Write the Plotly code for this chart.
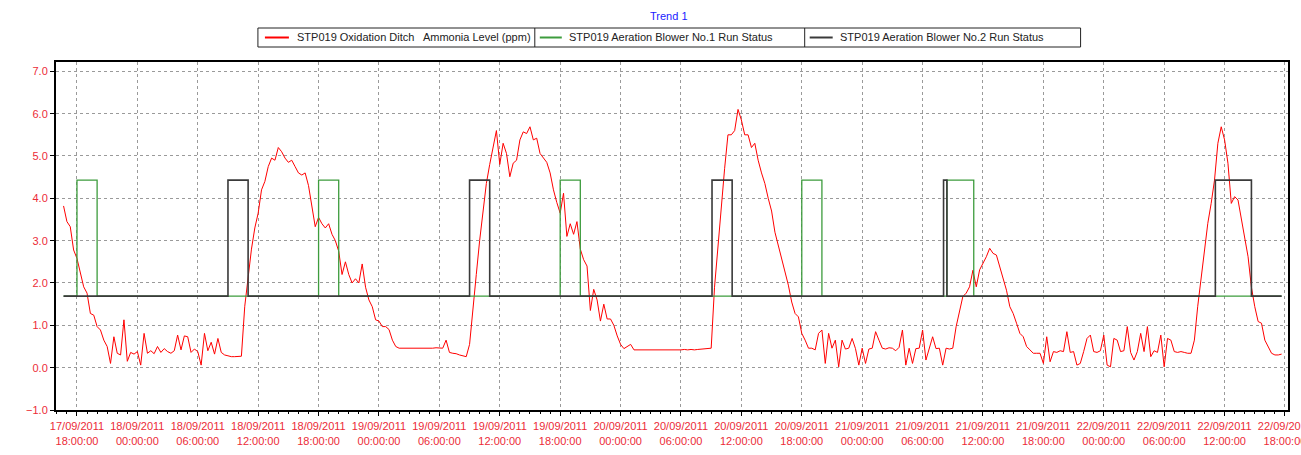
import pandas as pd
import plotly.graph_objects as go

# ---------------- data ----------------
series_start = "2011-09-17 16:40"
series_step = "20min"

# Ammonia level (ppm), 20-minute readings from 17/09/2011 16:40
ammonia_ppm = [
    3.82, 3.45, 3.33, 2.78,            # 17/09 16:40-17:40
    2.58, 2.23, 1.91,                  # 17/09 18h
    1.76, 1.28, 1.24,                  # 19h
    0.97, 0.89, 0.65,                  # 20h
    0.50, 0.10, 0.73,                  # 21h
    0.34, 0.30, 1.13,                  # 22h
    0.15, 0.36, 0.32,                  # 23h
    0.38, 0.06, 0.81,                  # 18/09 00h
    0.34, 0.40, 0.33,                  # 01h
    0.50, 0.36, 0.45,                  # 02h
    0.38, 0.34, 0.40,                  # 03h
    0.77, 0.42, 0.75,                  # 04h
    0.73, 0.36, 0.44,                  # 05h
    0.38, 0.06, 0.81,                  # 06h
    0.40, 0.60, 0.32,                  # 07h
    0.69, 0.36, 0.30,                  # 08h
    0.28, 0.26, 0.26,                  # 09h
    0.26, 0.27, 1.45,                  # 10h
    2.15, 2.80, 3.30,                  # 11h
    3.65, 4.20, 4.40,                  # 12h
    4.75, 4.95, 4.90,                  # 13h
    5.20, 5.10, 4.95,                  # 14h
    4.85, 4.90, 4.75,                  # 15h
    4.60, 4.55, 4.60,                  # 16h
    4.30, 3.80, 3.33,                  # 17h
    3.55, 3.40, 3.30,                  # 18h
    3.40, 3.15, 3.00,                  # 19h
    2.75, 2.20, 2.50,                  # 20h
    2.20, 2.00, 2.10,                  # 21h
    2.00, 2.45, 1.90,                  # 22h
    1.60, 1.44, 1.13,                  # 23h
    1.10, 0.97, 0.97,                  # 19/09 00h
    0.90, 0.65, 0.50,                  # 01h
    0.46, 0.46, 0.46,                  # 02h
    0.45, 0.46, 0.46,                  # 03h
    0.46, 0.45, 0.46,                  # 04h
    0.46, 0.46, 0.47,                  # 05h
    0.46, 0.46, 0.65,                  # 06h
    0.36, 0.34, 0.33,                  # 07h
    0.30, 0.28, 0.26,                  # 08h
    0.55, 1.30, 2.20,                  # 09h
    3.00, 3.70, 4.35,                  # 10h
    4.80, 5.20, 5.60,                  # 11h
    4.80, 5.30, 5.06,                  # 12h
    4.51, 4.83, 4.90,                  # 13h
    5.38, 5.57, 5.53,                  # 14h
    5.69, 5.38, 5.42,                  # 15h
    5.06, 4.95, 4.85,                  # 16h
    4.60, 4.20, 3.90,                  # 17h
    3.65, 4.12, 3.10,                  # 18h
    3.40, 3.15, 3.45,                  # 19h
    2.80, 2.55, 2.40,                  # 20h
    1.35, 1.85, 1.60,                  # 21h
    1.10, 1.50, 1.15,                  # 22h
    1.15, 1.00, 0.75,                  # 23h
    0.55, 0.45, 0.50,                  # 20/09 00h
    0.55, 0.42, 0.42,                  # 01h
    0.42, 0.41, 0.42,                  # 02h
    0.42, 0.42, 0.41,                  # 03h
    0.42, 0.42, 0.42,                  # 04h
    0.41, 0.42, 0.42,                  # 05h
    0.42, 0.43, 0.42,                  # 06h
    0.43, 0.42, 0.43,                  # 07h
    0.44, 0.45, 0.46,                  # 08h
    0.46, 1.90, 2.90,                  # 09h
    3.90, 4.70, 5.50,                  # 10h
    5.50, 5.60, 6.10,                  # 11h
    5.85, 5.50, 5.50,                  # 12h
    5.20, 5.30, 4.90,                  # 13h
    4.60, 4.35, 4.00,                  # 14h
    3.70, 3.20, 2.90,                  # 15h
    2.55, 2.30, 1.95,                  # 16h
    1.55, 1.28, 1.20,                  # 17h
    0.81, 0.65, 0.46,                  # 18h
    0.46, 0.42, 0.81,                  # 19h
    0.89, 0.10, 0.81,                  # 20h
    0.46, 0.65, 0.02,                  # 21h
    0.65, 0.44, 0.46,                  # 22h
    0.69, 0.45, 0.06,                  # 23h
    0.46, 0.10, 0.44,                  # 21/09 00h
    0.46, 0.85, 0.65,                  # 01h
    0.46, 0.44, 0.47,                  # 02h
    0.46, 0.40, 0.48,                  # 03h
    0.89, 0.06, 0.46,                  # 04h
    0.10, 0.45, 0.46,                  # 05h
    0.89, 0.18, 0.46,                  # 06h
    0.73, 0.45, 0.46,                  # 07h
    0.06, 0.46, 0.44,                  # 08h
    0.46, 0.97, 1.36,                  # 09h
    1.68, 1.76, 1.91,                  # 10h
    2.30, 1.91, 2.31,                  # 11h
    2.46, 2.62, 2.82,                  # 12h
    2.70, 2.66, 2.39,                  # 13h
    2.07, 1.83, 1.44,                  # 14h
    1.28, 1.05, 0.81,                  # 15h
    0.73, 0.50, 0.42,                  # 16h
    0.34, 0.34, 0.34,                  # 17h
    0.10, 0.73, 0.14,                  # 18h
    0.38, 0.36, 0.40,                  # 19h
    0.38, 0.85, 0.36,                  # 20h
    0.38, 0.06, 0.10,                  # 21h
    0.38, 0.69, 0.77,                  # 22h
    0.38, 0.36, 0.40,                  # 23h
    0.77, 0.06, 0.02,                  # 22/09 00h
    0.69, 0.65, 0.38,                  # 01h
    0.40, 0.97, 0.36,                  # 02h
    0.18, 0.38, 0.81,                  # 03h
    0.38, 0.97, 0.26,                  # 04h
    0.40, 0.36, 0.77,                  # 05h
    0.02, 0.69, 0.65,                  # 06h
    0.38, 0.36, 0.38,                  # 07h
    0.36, 0.34, 0.34,                  # 08h
    0.65, 1.45, 2.15,                  # 09h
    2.78, 3.41, 3.88,                  # 10h
    4.43, 5.30, 5.69,                  # 11h
    5.38, 4.83, 3.88,                  # 12h
    4.04, 3.96, 3.49,                  # 13h
    3.09, 2.62, 1.90,                  # 14h
    1.44, 1.09, 1.05,                  # 15h
    0.65, 0.50, 0.34,                  # 16h
    0.30, 0.30, 0.32,                  # 17h
]

blower1_times = ["2011-09-17 16:40", "2011-09-17 18:00", "2011-09-17 20:00",
                 "2011-09-18 18:00", "2011-09-18 20:00", "2011-09-19 18:00",
                 "2011-09-19 20:00", "2011-09-20 18:00", "2011-09-20 20:00",
                 "2011-09-21 08:25", "2011-09-21 11:05", "2011-09-22 17:40"]
blower1_status = [0, 1, 0, 1, 0, 1, 0, 1, 0, 1, 0, 0]

blower2_times = ["2011-09-17 16:40", "2011-09-18 09:00", "2011-09-18 11:00",
                 "2011-09-19 09:00", "2011-09-19 11:00", "2011-09-20 09:05",
                 "2011-09-20 11:05", "2011-09-21 08:05", "2011-09-21 08:25",
                 "2011-09-22 11:05", "2011-09-22 14:40", "2011-09-22 17:40"]
blower2_status = [0, 1, 0, 1, 0, 1, 0, 1, 0, 1, 0, 0]

series_names = ["STP019 Oxidation Ditch \u00a0 Ammonia Level (ppm)",
                "STP019 Aeration Blower No.1 Run Status",
                "STP019 Aeration Blower No.2 Run Status"]
chart_title = "Trend 1"
y_ticks = [-1.0, 0.0, 1.0, 2.0, 3.0, 4.0, 5.0, 6.0, 7.0]

# ---------------- figure ----------------
times = pd.date_range(series_start, periods=len(ammonia_ppm), freq=series_step)

W, H = 1301, 455
ML, MR, MT, MB = 56, 12.5, 62, 45
plot_w = W - ML - MR
plot_h = H - MT - MB


def px_x(px):
    return (px - ML) / plot_w


def px_y(py):
    return (H - MB - py) / plot_h


FONT = "Liberation Sans, Arial, sans-serif"
RED = "#ff0000"
GREEN = "#3d9c3d"
DARK = "#3a3a3a"
TICKRED = "#ec2b37"
colors = [RED, GREEN, DARK]

fig = go.Figure()
fig.add_trace(go.Scatter(x=times, y=ammonia_ppm, mode="lines", name=series_names[0],
                         line=dict(color=RED, width=1)))
fig.add_trace(go.Scatter(x=pd.to_datetime(blower1_times), y=blower1_status, mode="lines",
                         name=series_names[1], yaxis="y2",
                         line=dict(color=GREEN, width=1.3, shape="hv")))
fig.add_trace(go.Scatter(x=pd.to_datetime(blower2_times), y=blower2_status, mode="lines",
                         name=series_names[2], yaxis="y2",
                         line=dict(color=DARK, width=1.6, shape="hv")))

# ---- legend drawn as a boxed strip (box, separators, samples, labels) ----
box_l, box_r, box_t, box_b = 258, 1081, 28, 47
seps = [535, 805]
sample_x = [(265, 289), (540, 562), (810, 833)]
label_x = [295, 567, 838]
mid_y = (box_t + box_b) / 2

shapes = [dict(type="rect", xref="paper", yref="paper",
               x0=px_x(box_l), x1=px_x(box_r), y0=px_y(box_b), y1=px_y(box_t),
               line=dict(color="#222222", width=1), fillcolor="white", layer="above")]
for sx in seps:
    shapes.append(dict(type="line", xref="paper", yref="paper", x0=px_x(sx), x1=px_x(sx),
                       y0=px_y(box_b), y1=px_y(box_t), line=dict(color="#222222", width=1)))
for (a, b), c in zip(sample_x, colors):
    shapes.append(dict(type="line", xref="paper", yref="paper", x0=px_x(a), x1=px_x(b),
                       y0=px_y(mid_y), y1=px_y(mid_y), line=dict(color=c, width=2)))

annotations = [dict(text=chart_title, xref="paper", yref="paper", x=px_x(669), y=px_y(16),
                    xanchor="center", yanchor="middle", showarrow=False,
                    font=dict(family=FONT, size=11, color="#1a1aff"))]
for name, lx in zip(series_names, label_x):
    annotations.append(dict(text=name, xref="paper", yref="paper", x=px_x(lx), y=px_y(mid_y),
                            xanchor="left", yanchor="middle", showarrow=False,
                            font=dict(family=FONT, size=11, color="#222222")))

fig.update_layout(
    width=W, height=H,
    margin=dict(l=ML, r=MR, t=MT, b=MB, pad=0, autoexpand=False),
    paper_bgcolor="white", plot_bgcolor="white",
    font=dict(family=FONT, size=11, color="#222222"),
    showlegend=False,
    xaxis=dict(
        type="date", automargin=False,
        range=["2011-09-17 15:55", "2011-09-22 18:18"],
        tick0="2011-09-17 18:00", dtick=6 * 3600 * 1000,
        tickformat="%d/%m/%Y<br>%H:%M:%S",
        tickfont=dict(family=FONT, size=11, color=TICKRED),
        ticks="outside", ticklen=4, tickcolor="#000000",
        ticklabeloverflow="allow",
        minor=dict(dtick=3600 * 1000, ticks="outside", ticklen=2, tickcolor="#000000",
                   showgrid=False),
        showgrid=True, gridcolor="#9a9a9a", gridwidth=1, griddash="3px,3px",
        showline=True, linecolor="#000000", linewidth=2, mirror=True,
        zeroline=False, ticklabelstandoff=1,
    ),
    yaxis=dict(
        automargin=False,
        range=[-1.0, 7.22],
        tickvals=y_ticks, tickformat=".1f",
        tickfont=dict(family=FONT, size=11, color=TICKRED),
        ticks="outside", ticklen=4, tickcolor="#000000",
        showgrid=True, gridcolor="#9a9a9a", gridwidth=1, griddash="3px,3px",
        showline=True, linecolor="#000000", linewidth=2, mirror=True,
        zeroline=False,
    ),
    yaxis2=dict(overlaying="y", range=[-0.982, 2.018], visible=False,
                showgrid=False, zeroline=False, automargin=False),
    shapes=shapes,
    annotations=annotations,
)

fig.write_html("out.html",
               config={"displayModeBar": False, "staticPlot": True},
               post_script="document.body.style.margin='0';document.body.style.overflow='hidden';")
